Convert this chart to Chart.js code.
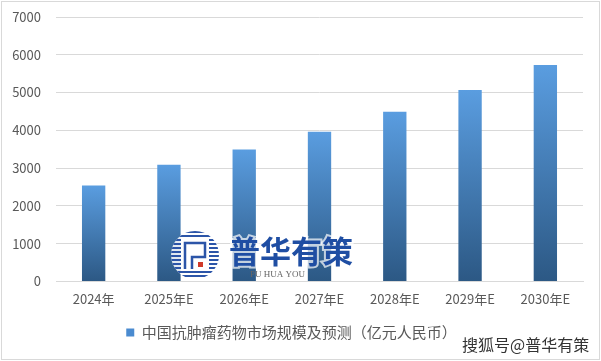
<!DOCTYPE html>
<html><head><meta charset="utf-8">
<script src="https://cdn.jsdelivr.net/npm/chart.js@4/dist/chart.umd.min.js"></script>
<style>html,body{margin:0;padding:0;background:#fff}#wrap{width:601px;height:361px;position:relative}</style>
</head><body><div id="wrap"><canvas id="c" width="601" height="361"></canvas></div>
<script>
const categories = ['2024年','2025年E','2026年E','2027年E','2028年E','2029年E','2030年E'];
const marketSize = [2540, 3090, 3490, 3960, 4490, 5070, 5730];
const seriesName = '中国抗肿瘤药物市场规模及预测（亿元人民币）';
const yTickValues = [0, 1000, 2000, 3000, 4000, 5000, 6000, 7000];
const logoText = '普华有策';
const logoSub = 'PU HUA YOU';
const sourceMark = '搜狐号@普华有策';

const FONT = '"Noto Sans CJK SC", "Open Sans", sans-serif';

function barFill(ctx) {
  const chart = ctx.chart;
  const y = chart.scales && chart.scales.y;
  if (ctx.type !== 'data' || !y) return '#4a8bd0';
  const top = y.getPixelForValue(ctx.raw);
  const base = y.getPixelForValue(0);
  if (!isFinite(top) || !isFinite(base) || top === base) return '#4a8bd0';
  const g = chart.ctx.createLinearGradient(0, top, 0, base);
  g.addColorStop(0, '#5a9de0');
  g.addColorStop(1, '#2c5884');
  return g;
}

const framePlugin = {
  id: 'frame',
  beforeDraw(chart) {
    const c = chart.ctx;
    c.save(); c.fillStyle = '#fff'; c.fillRect(0, 0, chart.width, chart.height); c.restore();
  },
  afterDraw(chart) {
    const c = chart.ctx;
    c.save();
    c.strokeStyle = '#d9d9d9'; c.lineWidth = 1;
    c.strokeRect(1.5, 1.5, chart.width - 3, chart.height - 3);
    c.font = '16px ' + FONT;
    c.textAlign = 'left'; c.textBaseline = 'middle';
    c.lineWidth = 3; c.strokeStyle = 'rgba(255,255,255,0.9)';
    c.strokeText(sourceMark, 462, 345);
    c.fillStyle = '#333';
    c.fillText(sourceMark, 462, 345);
    c.restore();
  },
  afterDatasetsDraw(chart) {
    const c = chart.ctx;
    c.save();
    const cx = 195, cy = 255, r = 24;
    c.beginPath(); c.arc(cx, cy, r, 0, Math.PI * 2); c.closePath();
    c.fillStyle = 'rgba(255,255,255,0.85)'; c.fill();
    c.save(); c.clip();
    c.fillStyle = '#2c55a8';
    for (let yy = cy - r; yy < cy + r; yy += 4) c.fillRect(cx - r, yy, 2 * r, 2);
    c.fillStyle = '#fff';
    c.fillRect(cx - 14, cy - 16, 28, 32);
    c.restore();
    c.strokeStyle = '#2c55a8'; c.lineWidth = 2.5;
    c.beginPath();
    c.moveTo(cx - 10, cy + 14); c.lineTo(cx - 10, cy - 12); c.lineTo(cx + 10, cy - 12); c.lineTo(cx + 10, cy + 2); c.lineTo(cx - 3, cy + 2); c.lineTo(cx - 3, cy + 14);
    c.stroke();
    c.fillStyle = '#d03a2a'; c.fillRect(cx + 3, cy + 7, 5, 5);
    c.font = 'bold 31px ' + FONT;
    c.textAlign = 'left'; c.textBaseline = 'middle';
    c.lineWidth = 4; c.strokeStyle = 'rgba(255,255,255,0.7)';
    c.strokeText(logoText, 229, 251);
    c.fillStyle = '#1f4ea3';
    c.fillText(logoText, 229, 251);
    c.font = '9px "Liberation Serif", serif';
    c.fillStyle = '#666';
    c.fillText(logoSub, 250, 275);
    c.restore();
  }
};

new Chart(document.getElementById('c'), {
  type: 'bar',
  data: {
    labels: categories,
    datasets: [{
      label: seriesName,
      data: marketSize,
      backgroundColor: barFill,
      borderWidth: 0,
      categoryPercentage: 1.0,
      barPercentage: 0.31
    }]
  },
  options: {
    responsive: false,
    animation: false,
    devicePixelRatio: 1,
    layout: { padding: { top: 17, right: 18, left: 0, bottom: 11 } },
    plugins: {
      tooltip: { enabled: false },
      legend: {
        position: 'bottom',
        labels: {
          color: '#595959',
          font: { size: 15, family: FONT },
          boxWidth: 8, boxHeight: 8,
          padding: 8,
          generateLabels(chart) {
            return chart.data.datasets.map((ds, i) => ({
              text: ds.label, fillStyle: '#4a8bd0', strokeStyle: '#4a8bd0', lineWidth: 0,
              hidden: false, datasetIndex: i, fontColor: '#595959'
            }));
          }
        }
      }
    },
    scales: {
      x: {
        grid: { display: false, drawTicks: false },
        border: { display: true, color: '#d9d9d9', width: 1 },
        ticks: { color: '#595959', font: { size: 13, family: FONT }, padding: 10, maxRotation: 0 }
      },
      y: {
        min: 0, max: 7000,
        afterBuildTicks(scale) { scale.ticks = yTickValues.map(v => ({ value: v })); },
        afterFit(scale) { scale.width = 56; },
        grid: { color: '#d9d9d9', lineWidth: 1, drawTicks: true, tickLength: 11, tickColor: 'rgba(0,0,0,0)' },
        border: { display: false },
        ticks: { color: '#595959', font: { size: 13, family: FONT }, padding: 4, callback: v => String(v) }
      }
    }
  },
  plugins: [framePlugin]
});
</script>
</body></html>
